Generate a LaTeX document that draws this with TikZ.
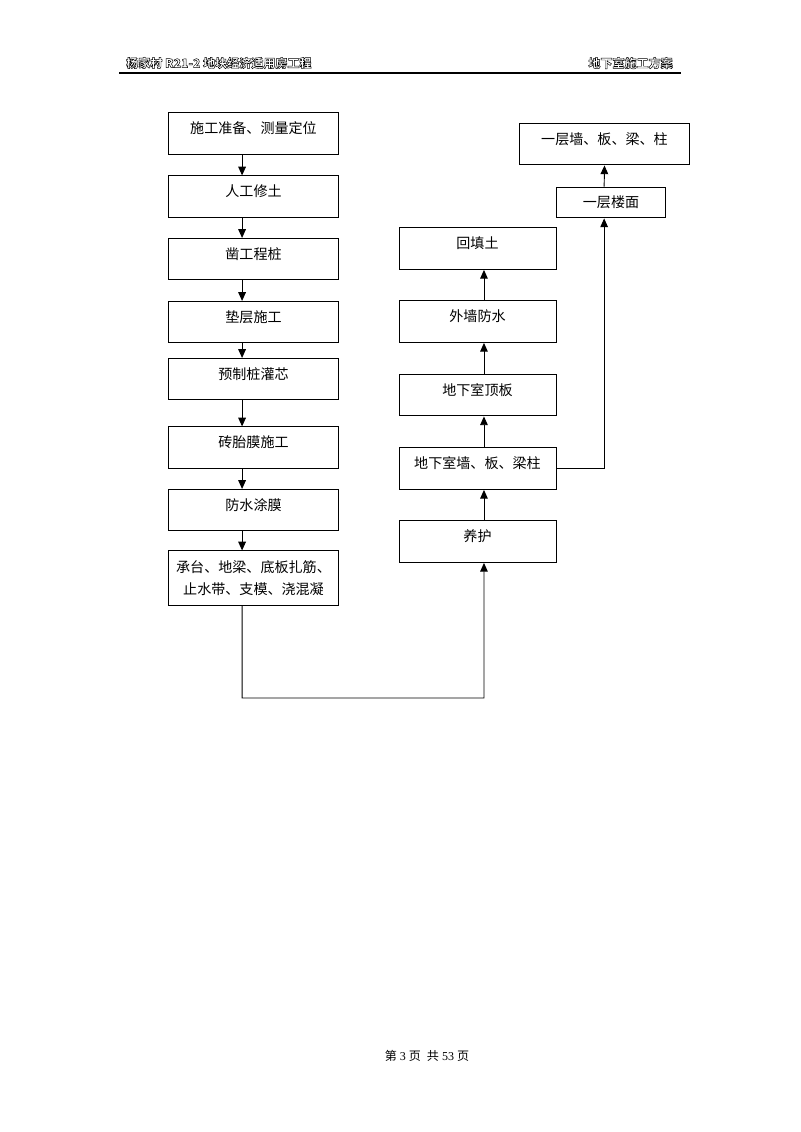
\documentclass[tikz,border=0pt]{standalone}
\usepackage{fontspec}
\setmainfont{Liberation Serif}
\newfontfamily\cjk{Noto Sans CJK SC}
\usetikzlibrary{arrows.meta}

\newcommand{\hollow}[1]{\special{pdf:literal direct 1 Tr 0.35 w}#1\special{pdf:literal direct 0 Tr}}

\begin{document}
\begin{tikzpicture}[x=0.2625mm, y=-0.2625mm,
  box/.style={draw, line width=0.7pt, minimum width=44.4mm, minimum height=10.8mm, inner sep=1pt,
    font=\cjk\fontsize{10.5}{16}\selectfont, text height=3mm, text depth=2.8mm},
  link/.style={-{Triangle[length=2.3mm, width=2mm]}, line width=0.7pt}]
  \useasboundingbox (0,0) rectangle (800,1132);

  % header
  \node[anchor=west, inner sep=0, font=\cjk\bfseries\fontsize{9}{11}\selectfont] (hl) at (126,63) {\hollow{杨家村 R21-2 地块经济适用房工程}};
  \node[anchor=east, inner sep=0, font=\cjk\bfseries\fontsize{9}{11}\selectfont] (hr) at (673,63) {\hollow{地下室施工方案}};
  \draw[line width=0.9pt] (119,73) -- (681,73);

  % left column
  \node[box] (A) at (253.5,133.5) {施工准备、测量定位};
  \node[box] (B) at (253.5,196.5) {人工修土};
  \node[box] (C) at (253.5,259) {凿工程桩};
  \node[box] (D) at (253.5,322) {垫层施工};
  \node[box] (E) at (253.5,379) {预制桩灌芯};
  \node[box] (F) at (253.5,447.5) {砖胎膜施工};
  \node[box] (G) at (253.5,510) {防水涂膜};
  \node[box, minimum height=14.2mm, text height=, text depth=, align=center, font=\cjk\fontsize{10.5}{16.5}\selectfont] (H) at (253.5,578) {承台、地梁、底板扎筋、\\止水带、支模、浇混凝};

  % right column
  \node[box, minimum width=41.2mm, minimum height=11mm] (I) at (477.5,248.5) {回填土};
  \node[box, minimum width=41.2mm, minimum height=11mm] (J) at (477.5,321.5) {外墙防水};
  \node[box, minimum width=41.2mm, minimum height=11mm] (K) at (477.5,395) {地下室顶板};
  \node[box, minimum width=41.2mm, minimum height=11mm] (L) at (477.5,468.5) {地下室墙、板、梁柱};
  \node[box, minimum width=41.2mm, minimum height=11mm] (M) at (477.5,541.5) {养护};
  \node[box, minimum width=28.4mm, minimum height=8.1mm, text height=, text depth=] (N) at (611,202.5) {一层楼面};
  \node[box, minimum height=11mm] (O) at (604.5,144) {一层墙、板、梁、柱};
  \coordinate (P) at (484,698);

  \draw[link] ([xshift=-3mm]A.south) -- ([xshift=-3mm]B.north);
  \draw[link] ([xshift=-3mm]B.south) -- ([xshift=-3mm]C.north);
  \draw[link] ([xshift=-3mm]C.south) -- ([xshift=-3mm]D.north);
  \draw[link] ([xshift=-3mm]D.south) -- ([xshift=-3mm]E.north);
  \draw[link] ([xshift=-3mm]E.south) -- ([xshift=-3mm]F.north);
  \draw[link] ([xshift=-3mm]F.south) -- ([xshift=-3mm]G.north);
  \draw[link] ([xshift=-3mm]G.south) -- ([xshift=-3mm]H.north);
  \draw[link] ([xshift=-3mm]H.south) |- (P) -- ([xshift=1.7mm]M.south);
  \draw[link] ([xshift=1.7mm]M.north) -- ([xshift=1.7mm]L.south);
  \draw[link] ([xshift=1.7mm]L.north) -- ([xshift=1.7mm]K.south);
  \draw[link] ([xshift=1.7mm]K.north) -- ([xshift=1.7mm]J.south);
  \draw[link] ([xshift=1.7mm]J.north) -- ([xshift=1.7mm]I.south);
  \draw[link] (L.east) -| ([xshift=-1.8mm]N.south);
  \draw[link] ([xshift=-1.8mm]N.north) -- (O.south);

  % footer
  \node[inner sep=0, font=\fontsize{9}{11}\selectfont] (pg) at (427,1056) {{\cjk 第}\ 3\ {\cjk 页}\ \ {\cjk 共}\ 53\ {\cjk 页}};
\end{tikzpicture}
\end{document}
